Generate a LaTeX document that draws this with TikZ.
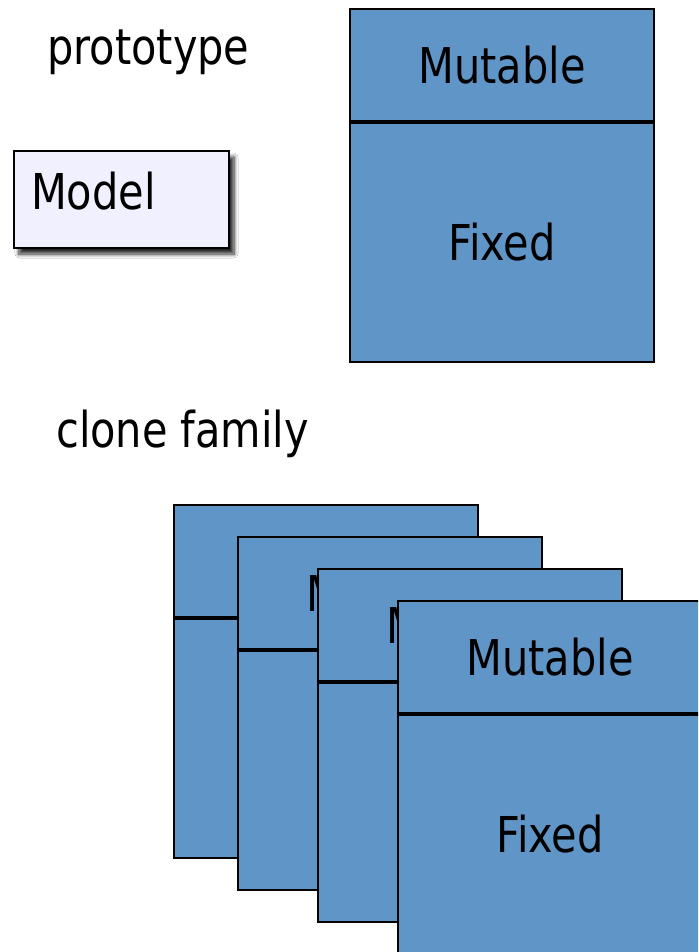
\documentclass[tikz,border=0pt]{standalone}
\usepackage{fontspec}
\setmainfont{DejaVu Sans}[FakeStretch=0.84]
\usetikzlibrary{shadows.blur}
\definecolor{boxblue}{RGB}{96,149,200}
\definecolor{modelfill}{RGB}{240,240,255}
\tikzset{
  big/.style={font=\fontsize{49.4}{59}\selectfont},
  part/.style={draw=black, line width=2pt, fill=boxblue, minimum width=304pt, inner sep=0pt, anchor=north west, big},
  mutpart/.style={part, minimum height=112pt},
  fixpart/.style={part, minimum height=239pt},
  modelbox/.style={draw=black, line width=2pt, fill=modelfill, minimum width=215pt, minimum height=97pt,
    anchor=north west, inner xsep=17pt, inner ysep=0pt, text width=181pt, align=left,
    text height=37pt, text depth=18pt, big,
    blur shadow={shadow xshift=5pt, shadow yshift=-6pt, shadow blur radius=4pt, shadow opacity=85, shadow blur steps=8}},
  caption/.style={anchor=base west, inner sep=0pt, big}
}
\begin{document}
\begin{tikzpicture}[x=1pt, y=-1pt]
\useasboundingbox (0,0) rectangle (698,952);
\clip (0,0) rectangle (698,952);
\fill[white] (0,0) rectangle (698,952);

\node[caption] (proto) at (47,65) {prototype};
\node[modelbox] (model) at (13,150) {Model};

\node[mutpart] (pm) at (349,8) {Mutable};
\node[fixpart] (pf) at (pm.south west) {Fixed};

\node[caption] (clone) at (56,447) {clone family};

\node[mutpart] (m1) at (173,504) {Mutable};
\node[fixpart] (f1) at (m1.south west) {Fixed};
\node[mutpart] (m2) at (237,536) {Mutable};
\node[fixpart] (f2) at (m2.south west) {Fixed};
\node[mutpart] (m3) at (317,568) {Mutable};
\node[fixpart] (f3) at (m3.south west) {Fixed};
\node[mutpart] (m4) at (397,600) {Mutable};
\node[fixpart] (f4) at (m4.south west) {Fixed};
\end{tikzpicture}
\end{document}
